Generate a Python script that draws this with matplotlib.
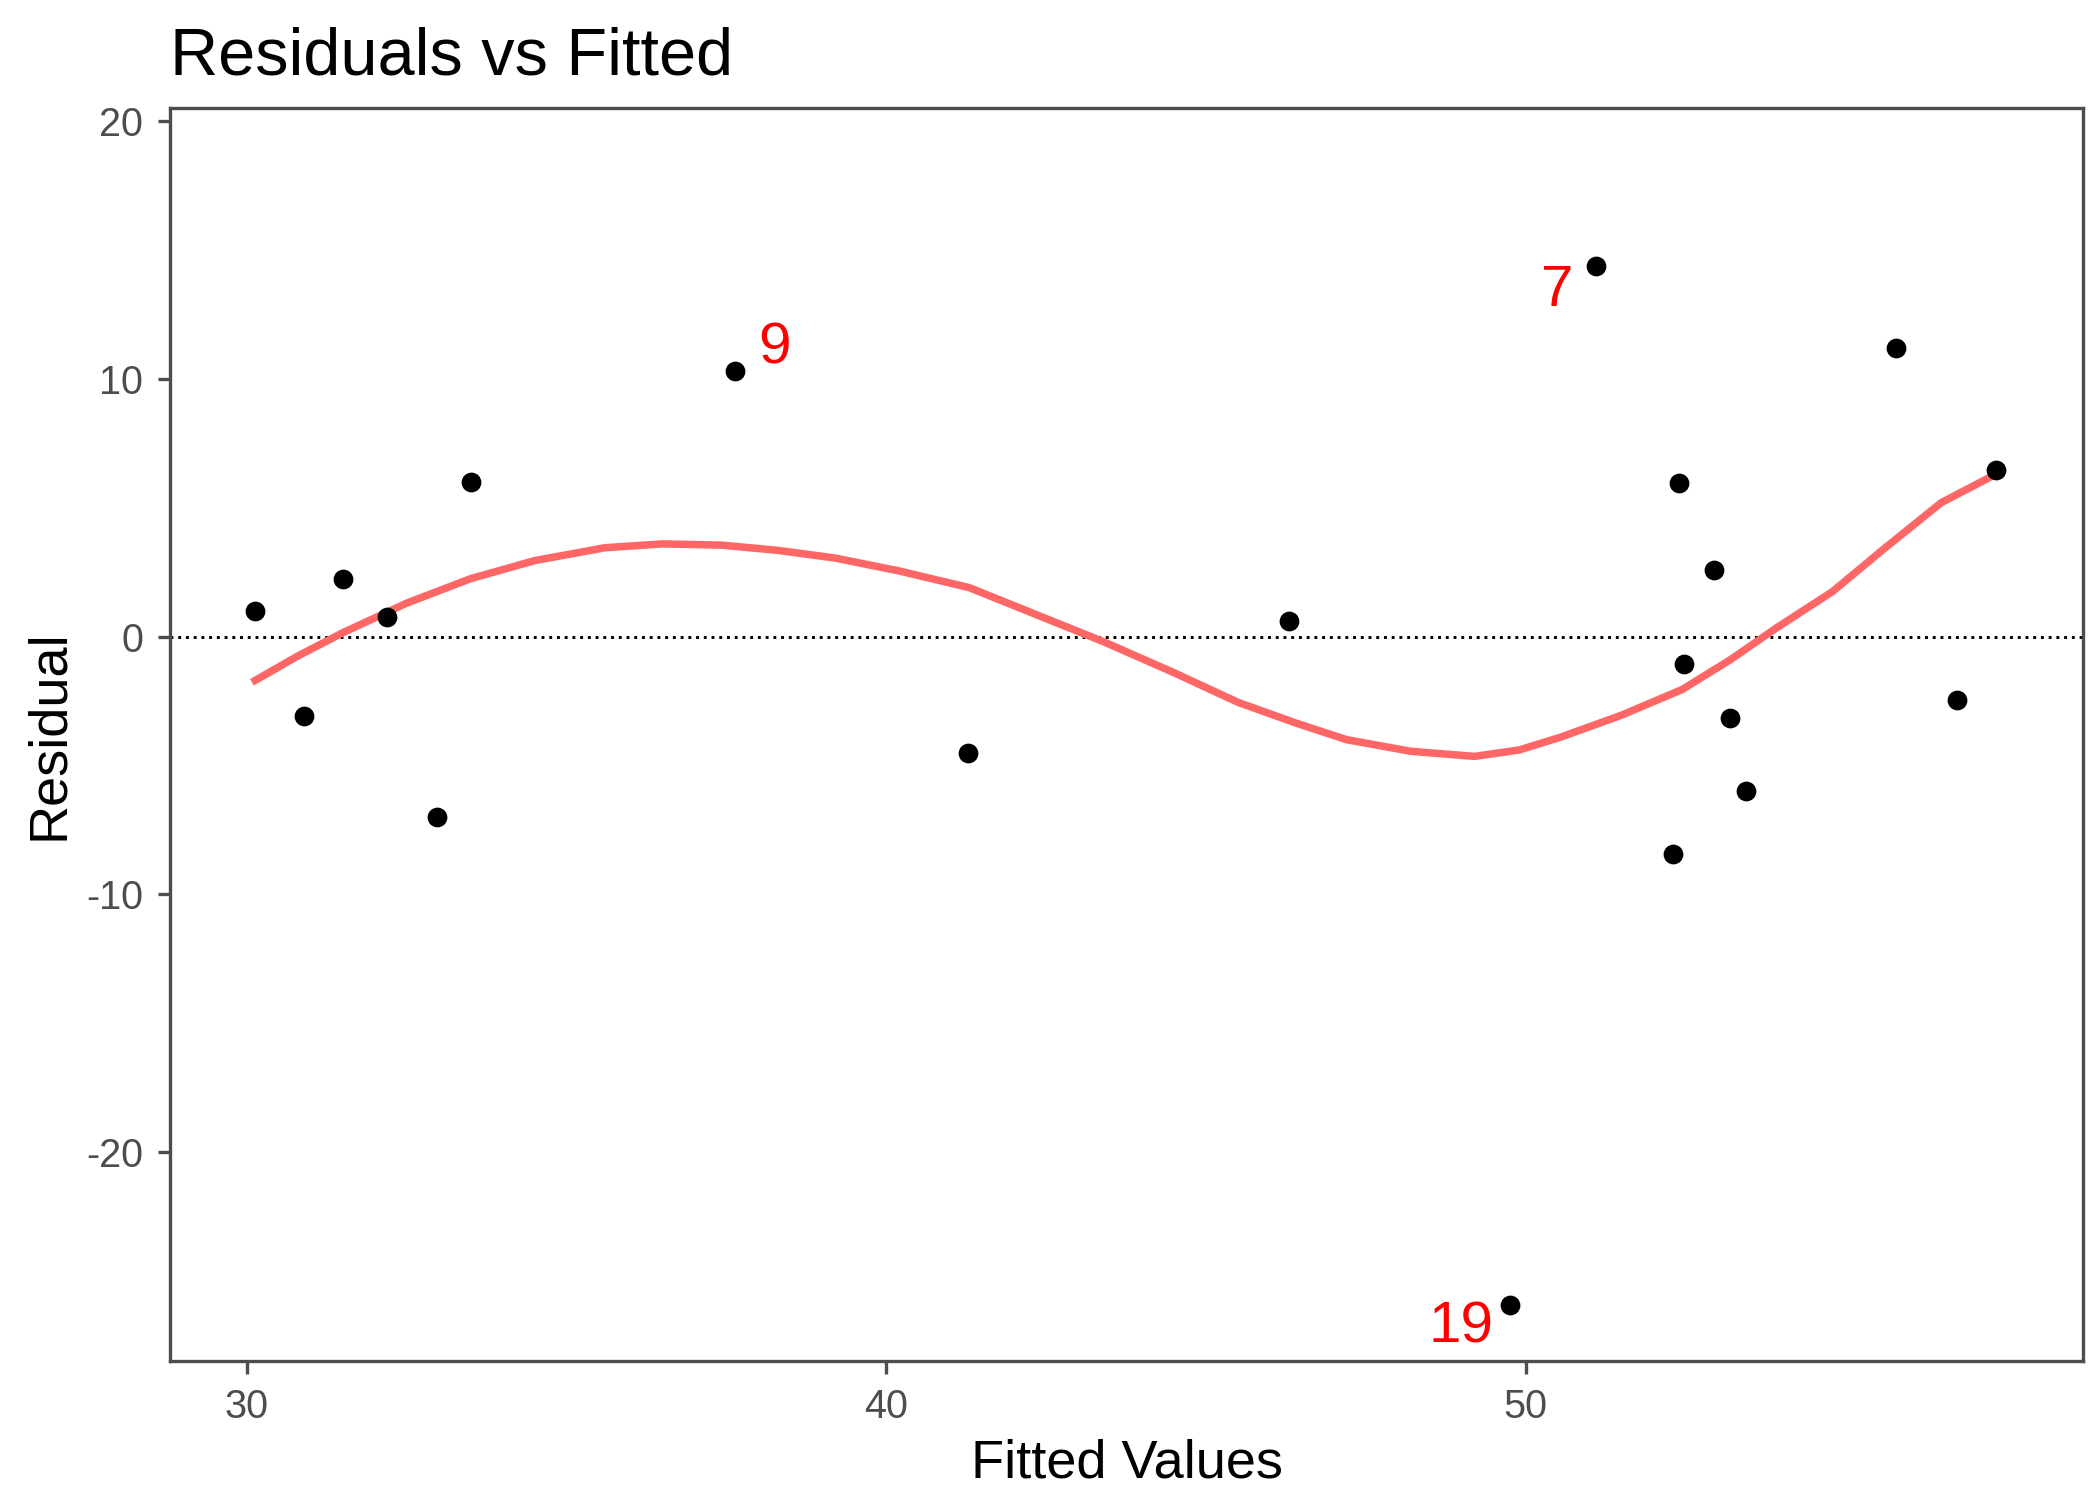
import numpy as np
import matplotlib
matplotlib.use("Agg")
import matplotlib.pyplot as plt

plt.rcParams["font.family"] = ["Liberation Sans", "DejaVu Sans"]
plt.rcParams["axes.unicode_minus"] = False

# ── Données ───────────────────────────────────────────────────────────────────
fitted = [30.13, 30.9, 31.5, 32.2, 32.97, 33.5, 37.64, 41.28, 46.3, 49.75,
          51.1, 52.3, 52.4, 52.48, 52.95, 53.2, 53.45, 55.8, 56.75, 57.35]
resid = [1.0, -3.1, 2.25, 0.75, -7.0, 6.0, 10.3, -4.5, 0.6, -25.95,
         14.4, -8.45, 5.95, -1.05, 2.6, -3.15, -6.0, 11.2, -2.45, 6.45]

smooth_x = [30.13, 30.8, 31.5, 32.5, 33.5, 34.5, 35.6, 36.5, 37.43, 38.3, 39.2,
            40.2, 41.3, 42.3, 43.4, 44.5, 45.5, 46.4, 47.2, 48.2, 49.2, 49.9,
            50.55, 51.5, 52.45, 53.2, 53.9, 54.8, 55.6, 56.5, 57.35]
smooth_y = [-1.7, -0.75, 0.15, 1.3, 2.25, 2.95, 3.45, 3.6, 3.55, 3.35, 3.05,
            2.55, 1.9, 0.9, -0.2, -1.4, -2.55, -3.35, -4.0, -4.45, -4.65, -4.4,
            -3.9, -3.05, -2.05, -0.9, 0.3, 1.75, 3.4, 5.2, 6.3]

labels = ["9", "7", "19"]
label_x = [38.0, 50.75, 49.5]
label_y = [11.2, 13.4, -26.8]
label_ha = ["left", "right", "right"]

fig, ax = plt.subplots(figsize=(7, 5), dpi=300)
ax.axhline(0, color="black", linestyle=":", linewidth=0.7)
ax.plot(smooth_x, smooth_y, color="#FF6666", linewidth=1.8, solid_joinstyle="round")
ax.scatter(fitted, resid, s=14, color="black", zorder=3)
for t, lx, ly, ha in zip(labels, label_x, label_y, label_ha):
    ax.text(lx, ly, t, color="red", fontsize=14, ha=ha, va="center")

ax.set_xlim(28.8, 58.72)
ax.set_ylim(-28.1, 20.52)
ax.set_xticks([30, 40, 50])
ax.set_yticks([-20, -10, 0, 10, 20])
ax.tick_params(labelsize=9.5, colors="#4D4D4D", labelcolor="#4D4D4D", length=3)
for s in ax.spines.values():
    s.set_color("#4D4D4D")
    s.set_linewidth(0.8)
ax.set_xlabel("Fitted Values", fontsize=13, labelpad=3)
ax.set_ylabel("Residual", fontsize=13, labelpad=3)
ax.set_title("Residuals vs Fitted", fontsize=16, loc="left", pad=8)
fig.subplots_adjust(left=0.081, right=0.992, top=0.928, bottom=0.093)
plt.savefig("out.png", dpi=300)
